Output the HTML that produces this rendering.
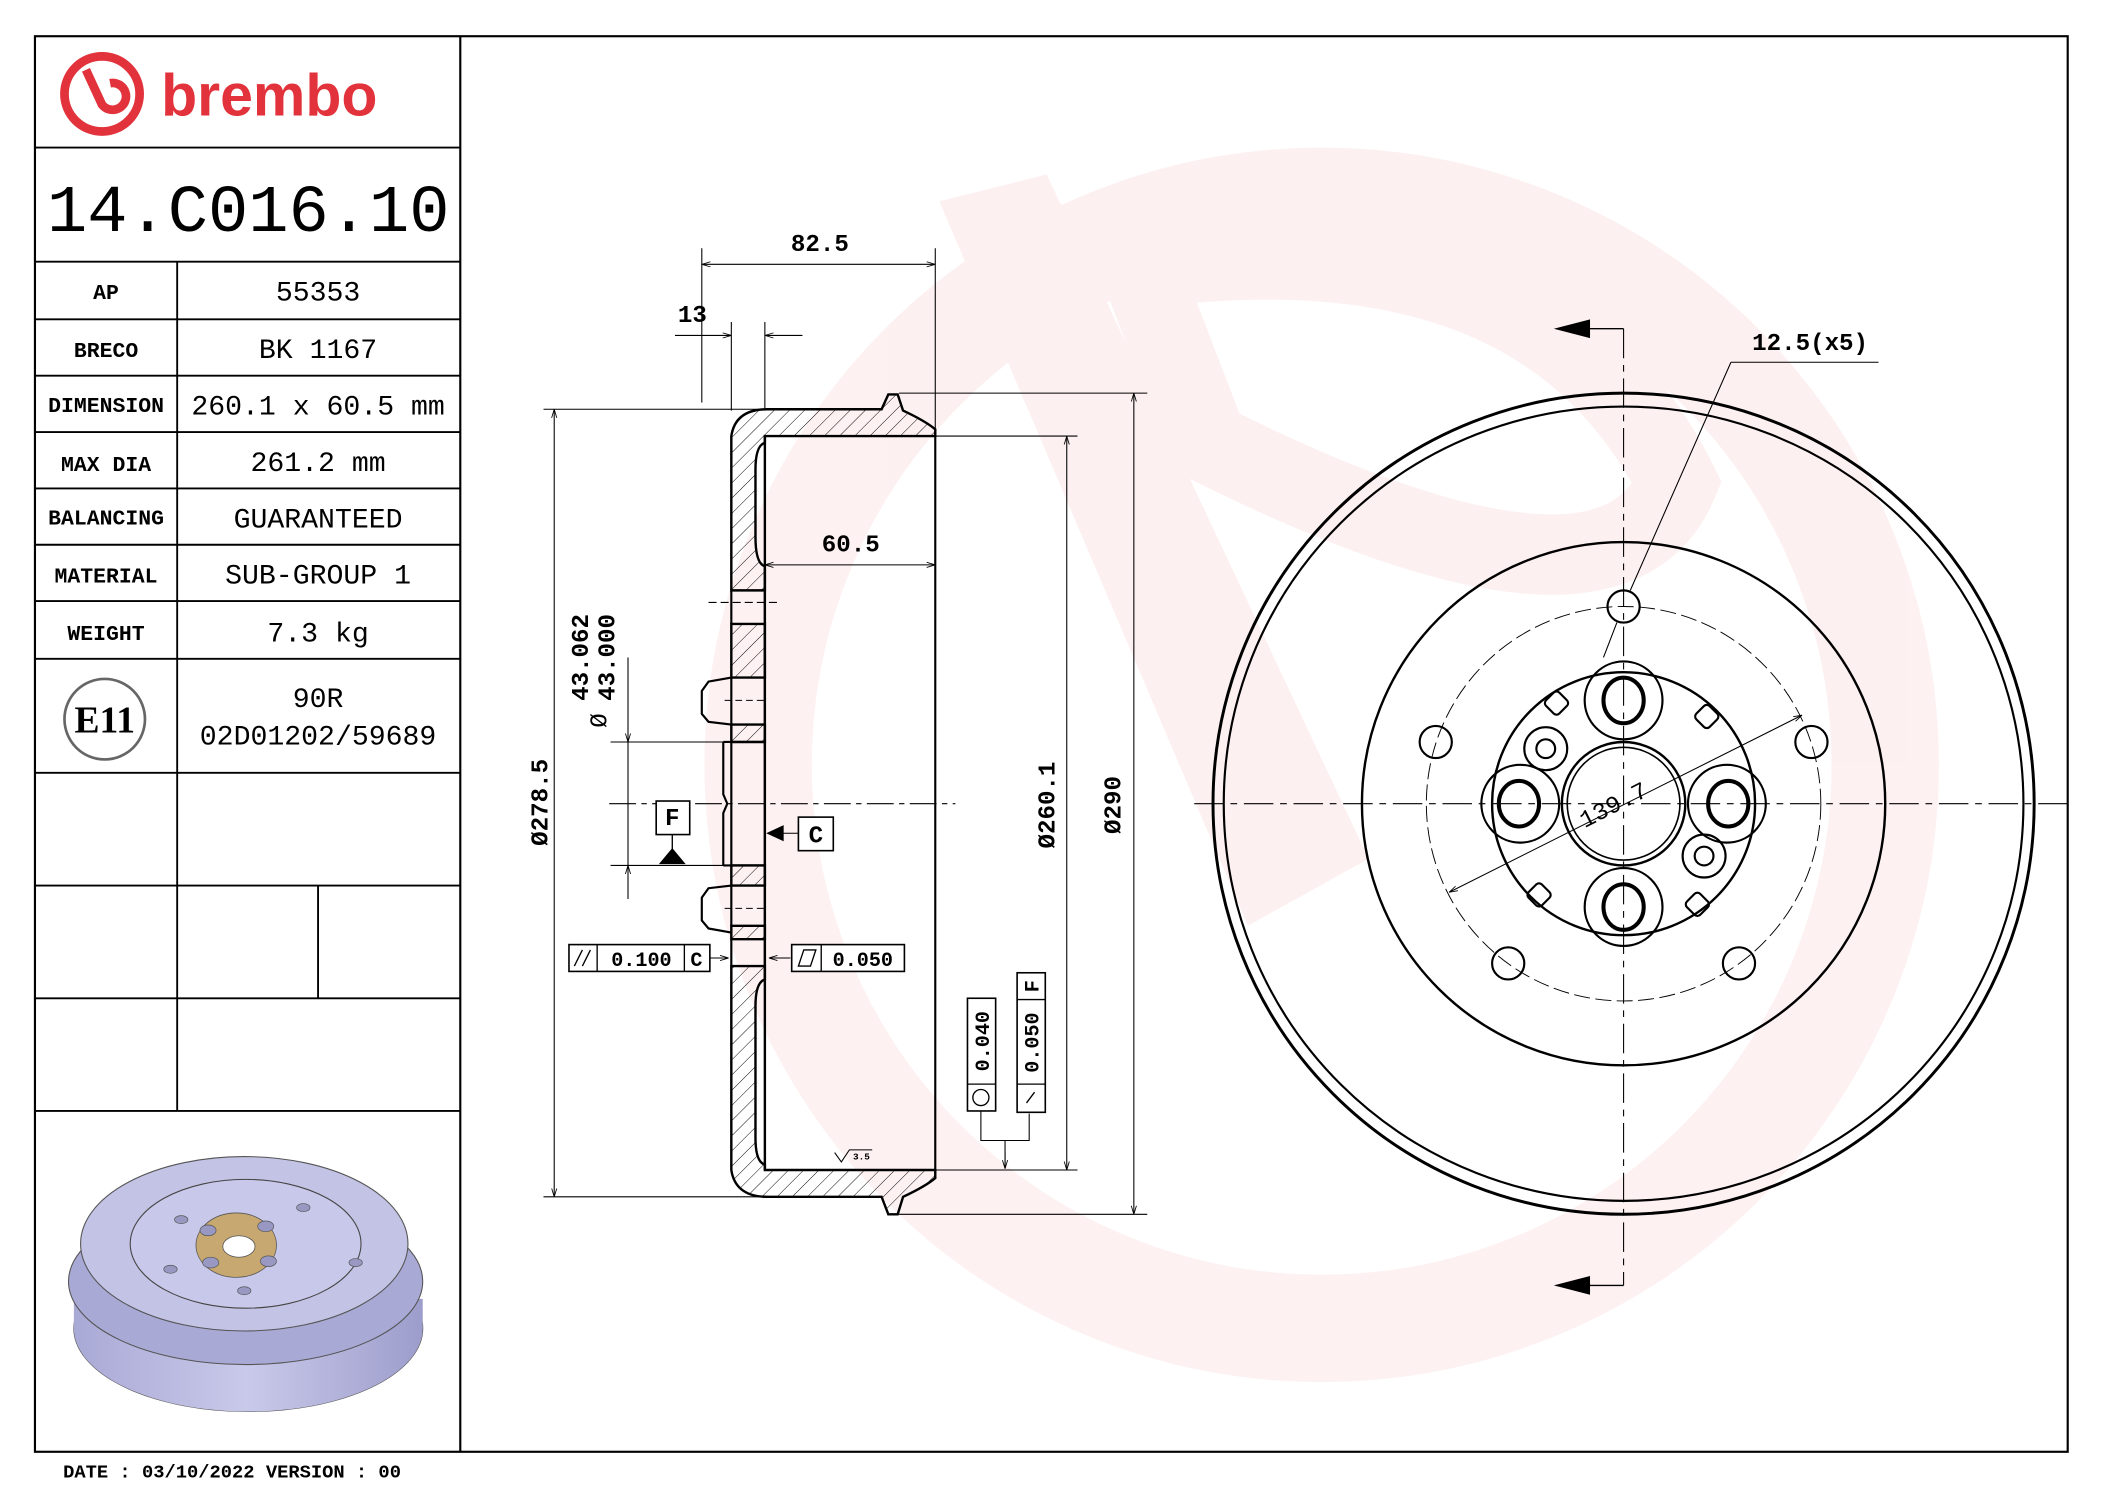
<!DOCTYPE html>
<html><head><meta charset="utf-8"><style>
html,body{margin:0;padding:0;background:#fff;}
svg{display:block}
</style></head><body>
<svg width="2104" height="1488" viewBox="0 0 1568 1109" xmlns="http://www.w3.org/2000/svg" font-family="Liberation Sans, sans-serif">
<defs>
<pattern id="h" width="8" height="8" patternUnits="userSpaceOnUse" patternTransform="rotate(45)">
<line x1="0" y1="0" x2="0" y2="8" stroke="#000" stroke-width="0.7"/>
</pattern>
<linearGradient id="body" x1="0" x2="1"><stop offset="0" stop-color="#a9a9d6"/><stop offset="0.5" stop-color="#c9c9ea"/><stop offset="1" stop-color="#9d9dcc"/></linearGradient>
<marker id="a" viewBox="0 0 10 10" refX="10" refY="5" markerWidth="8" markerHeight="8" orient="auto-start-reverse"><path d="M0,2 L10,5 L0,8" fill="none" stroke="#000" stroke-width="1"/></marker>
</defs>
<rect width="1568" height="1109" fill="#fff"/>
<!-- watermark -->
<g opacity="0.3">
<circle cx="985" cy="570" r="420" fill="none" stroke="#f9d0d4" stroke-width="80"/>
<path d="M700,150 L780,130 L1020,640 L930,690 Z" fill="#f9d0d4"/>
<path d="M850,200 Q1150,160 1250,360 Q1200,480 900,330 Z" fill="none" stroke="#f9d0d4" stroke-width="60"/>
</g>
<!-- frame -->
<rect x="26" y="27" width="1515" height="1055" fill="none" stroke="#000" stroke-width="1.6"/>
<line x1="343" y1="27" x2="343" y2="1082" stroke="#000" stroke-width="1.6"/>
<g stroke="#000" stroke-width="1.4">
<line x1="26" y1="110" x2="343" y2="110"/>
<line x1="26" y1="195" x2="343" y2="195"/>
<line x1="26" y1="238" x2="343" y2="238"/>
<line x1="26" y1="280" x2="343" y2="280"/>
<line x1="26" y1="322" x2="343" y2="322"/>
<line x1="26" y1="364" x2="343" y2="364"/>
<line x1="26" y1="406" x2="343" y2="406"/>
<line x1="26" y1="448" x2="343" y2="448"/>
<line x1="26" y1="491" x2="343" y2="491"/>
<line x1="26" y1="576" x2="343" y2="576"/>
<line x1="26" y1="660" x2="343" y2="660"/>
<line x1="26" y1="744" x2="343" y2="744"/>
<line x1="26" y1="828" x2="343" y2="828"/>
<line x1="132" y1="195" x2="132" y2="828"/>
<line x1="237" y1="660" x2="237" y2="744"/>
</g>
<!-- logo -->
<g fill="none" stroke="#e2323b" stroke-width="6.5">
<circle cx="76" cy="70" r="28"/>
<path d="M64,52 L76,78 A10,10 0 1 0 82,62"/>
</g>
<text x="120" y="86" font-size="44" font-weight="bold" fill="#e2323b">brembo</text>
<text x="185" y="172" font-size="50" text-anchor="middle" font-family="Liberation Mono, monospace">14.C016.10</text>
<g font-size="16" font-weight="bold" text-anchor="middle" font-family="Liberation Mono, monospace">
<text x="79" y="223">AP</text><text x="79" y="266">BRECO</text><text x="79" y="307">DIMENSION</text>
<text x="79" y="351">MAX DIA</text><text x="79" y="391">BALANCING</text><text x="79" y="434">MATERIAL</text><text x="79" y="477">WEIGHT</text>
</g>
<g font-size="21" text-anchor="middle" font-family="Liberation Mono, monospace">
<text x="237" y="224">55353</text><text x="237" y="267">BK 1167</text><text x="237" y="309">260.1 x 60.5 mm</text>
<text x="237" y="351">261.2 mm</text><text x="237" y="393">GUARANTEED</text><text x="237" y="435">SUB-GROUP 1</text>
<text x="237" y="478">7.3 kg</text><text x="237" y="527">90R</text><text x="237" y="555">02D01202/59689</text>
</g>
<circle cx="78" cy="536" r="30" fill="none" stroke="#666" stroke-width="2"/>
<text x="78" y="546" font-size="28" font-weight="bold" text-anchor="middle" font-family="Liberation Serif, serif">E11</text>
<text x="47" y="1101" font-size="14" font-family="Liberation Mono, monospace" font-weight="bold">DATE : 03/10/2022 VERSION : 00</text>
<!-- thumbnail -->
<ellipse cx="185" cy="990" rx="130" ry="62" fill="#a5a5d2" stroke="#555" stroke-width="0.8"/>
<path d="M55,968 L55,990 A130,62 0 0 0 315,990 L315,968 Z" fill="url(#body)"/>
<ellipse cx="183" cy="955" rx="132" ry="62" fill="#a9a9d6" stroke="#555" stroke-width="0.8"/>
<ellipse cx="182" cy="927" rx="122" ry="65" fill="#c3c3e6" stroke="#555" stroke-width="0.8"/>
<ellipse cx="183" cy="927" rx="86" ry="48" fill="#c8c8ea" stroke="#444" stroke-width="0.8"/>
<ellipse cx="176" cy="928" rx="30" ry="24" fill="#c7a870" stroke="#555" stroke-width="0.6"/>
<ellipse cx="178" cy="929" rx="12" ry="8" fill="#fff" stroke="#555" stroke-width="0.6"/>
<g fill="#9898c2" stroke="#555" stroke-width="0.5">
<ellipse cx="155" cy="917" rx="6" ry="4"/><ellipse cx="198" cy="914" rx="6" ry="4"/><ellipse cx="157" cy="941" rx="6" ry="4"/><ellipse cx="200" cy="940" rx="6" ry="4"/>
<ellipse cx="135" cy="909" rx="5" ry="3"/><ellipse cx="226" cy="900" rx="5" ry="3"/><ellipse cx="265" cy="941" rx="5" ry="3"/><ellipse cx="182" cy="962" rx="5" ry="3"/><ellipse cx="127" cy="946" rx="5" ry="3"/>
</g>
<!-- SECTION VIEW -->
<g stroke="#000" stroke-width="1.8" fill="url(#h)">
<path d="M545,325 Q548,305 572,305 L657,305 L662,294 L669,294 L673,306 Q690,314 697,320 L697,325 L570,325 L570,330 Q563,332 563,350 L563,400 Q563,420 570,422 L570,440 L545,440 Z"/>
<path d="M545,465 L570,465 L570,505 L545,505 Z"/>
<path d="M545,540 L570,540 L570,553 L545,553 Z"/>
<path d="M545,645 L570,645 L570,660 L545,660 Z"/>
<path d="M545,690 L570,690 L570,700 L545,700 Z"/>
<path d="M545,720 L570,720 L570,730 Q563,732 563,750 L563,848 Q563,866 570,868 L570,872 L697,872 L697,878 Q690,884 673,892 L669,905 L662,905 L657,892 L572,892 Q548,892 545,872 Z"/>
</g>
<g stroke="#000" stroke-width="1.6" fill="none">
<path d="M545,440 L545,465 M570,440 L570,465 M545,505 L545,540 M570,505 L570,540"/>
<path d="M545,553 L545,645 M570,553 L570,645 M545,660 L545,690 M570,660 L570,690 M545,700 L545,720 M570,700 L570,720"/>
<path d="M545,505 L528,508 L523,515 L523,532 L528,538 L545,540"/>
<path d="M545,660 L528,662 L523,669 L523,686 L528,692 L545,695"/>
<line x1="697" y1="325" x2="697" y2="872"/>
<line x1="539" y1="553" x2="570" y2="553"/><line x1="539" y1="645" x2="570" y2="645"/>
<path d="M539,553 L539,592 L542,599 L539,606 L539,645"/>
<line x1="570" y1="325" x2="570" y2="872" stroke-width="1.8"/>
</g>
<g stroke="#000" stroke-width="0.8" fill="none">
<line x1="454" y1="599" x2="712" y2="599" stroke-dasharray="20,4,4,4"/>
<line x1="528" y1="449" x2="580" y2="449" stroke-dasharray="6,3"/>
<line x1="540" y1="522" x2="570" y2="522" stroke-dasharray="5,3"/><line x1="540" y1="677" x2="570" y2="677" stroke-dasharray="5,3"/>
<line x1="523" y1="185" x2="523" y2="300"/><line x1="697" y1="185" x2="697" y2="320"/>
<line x1="523" y1="197" x2="697" y2="197" marker-start="url(#a)" marker-end="url(#a)"/>
<line x1="545" y1="240" x2="545" y2="306"/><line x1="570" y1="240" x2="570" y2="306"/>
<line x1="503" y1="250" x2="545" y2="250" marker-end="url(#a)"/><line x1="598" y1="250" x2="570" y2="250" marker-end="url(#a)"/>
<line x1="570" y1="421" x2="697" y2="421" marker-start="url(#a)" marker-end="url(#a)"/>
<line x1="405" y1="305" x2="572" y2="305"/><line x1="405" y1="892" x2="572" y2="892"/>
<line x1="413" y1="305" x2="413" y2="892" marker-start="url(#a)" marker-end="url(#a)"/>
<line x1="455" y1="553" x2="545" y2="553"/><line x1="455" y1="645" x2="545" y2="645"/>
<line x1="468" y1="490" x2="468" y2="553" marker-end="url(#a)"/><line x1="468" y1="670" x2="468" y2="645" marker-end="url(#a)"/>
<line x1="468" y1="553" x2="468" y2="645"/>
<line x1="697" y1="325" x2="803" y2="325"/><line x1="697" y1="872" x2="803" y2="872"/>
<line x1="795" y1="325" x2="795" y2="872" marker-start="url(#a)" marker-end="url(#a)"/>
<line x1="670" y1="293" x2="855" y2="293"/><line x1="670" y1="905" x2="855" y2="905"/>
<line x1="845" y1="293" x2="845" y2="905" marker-start="url(#a)" marker-end="url(#a)"/>
<line x1="528" y1="714" x2="543" y2="714" marker-end="url(#a)"/><line x1="589" y1="714" x2="573" y2="714" marker-end="url(#a)"/>
<path d="M731,828 L731,850 L767,850 L767,830 M749,850 L749,871" />
<line x1="749" y1="858" x2="749" y2="871" marker-end="url(#a)"/>
<line x1="582" y1="621" x2="595" y2="621"/>
<path d="M622,859 L627,866 L633,857 L650,857"/>
</g>
<path d="M571,621 L584,615 L584,627 Z" fill="#000"/>
<path d="M491,644 L501,632 L511,644 Z" fill="#000"/>
<line x1="501" y1="622" x2="501" y2="636" stroke="#000" stroke-width="1"/>
<g fill="#fff" stroke="#000" stroke-width="1.2">
<rect x="489" y="597" width="25" height="25"/><rect x="595" y="609" width="26" height="25"/>
<rect x="424" y="704" width="105" height="20"/><rect x="590" y="704" width="84" height="20"/>
<rect x="721" y="744" width="21" height="84"/><rect x="758" y="725" width="21" height="104"/>
</g>
<g stroke="#000" stroke-width="1" fill="none">
<line x1="445" y1="704" x2="445" y2="724"/><line x1="510" y1="704" x2="510" y2="724"/>
<line x1="612" y1="704" x2="612" y2="724"/>
<line x1="721" y1="808" x2="742" y2="808"/><line x1="758" y1="808" x2="779" y2="808"/><line x1="758" y1="745" x2="779" y2="745"/>
<circle cx="731" cy="818" r="6"/>
<path d="M428,720 L434,708 M434,720 L440,708"/>
<path d="M595,720 L599,708 L608,708 L604,720 Z"/>
<path d="M765,822 L771,814"/>
</g>
<g font-size="18" font-family="Liberation Mono, monospace" font-weight="bold" text-anchor="middle">
<text x="611" y="187">82.5</text><text x="516" y="240">13</text><text x="634" y="411">60.5</text>
<text x="501" y="615">F</text><text x="608" y="628">C</text>
<text x="478" y="720" font-size="15">0.100</text><text x="519" y="720" font-size="15">C</text>
<text x="643" y="720" font-size="15">0.050</text>
<text transform="translate(408,598) rotate(-90)">Ø278.5</text>
<text transform="translate(438,490) rotate(-90)">43.062</text>
<text transform="translate(458,490) rotate(-90)">43.000</text>
<text transform="translate(452,537) rotate(-90)" font-weight="normal">Ø</text>
<text transform="translate(786,600) rotate(-90)">Ø260.1</text>
<text transform="translate(835,600) rotate(-90)">Ø290</text>
<text transform="translate(737,776) rotate(-90)" font-size="15">0.040</text>
<text transform="translate(774,777) rotate(-90)" font-size="15">0.050</text>
<text transform="translate(774,735) rotate(-90)" font-size="15">F</text>
<text x="642" y="864" font-size="7">3.5</text>
</g>
<!-- FRONT VIEW -->
<g stroke="#000" fill="none">
<line x1="890" y1="599" x2="1545" y2="599" stroke-width="0.8" stroke-dasharray="22,5,5,5"/>
<line x1="1210" y1="245" x2="1210" y2="958" stroke-width="0.8" stroke-dasharray="22,5,5,5"/>
<ellipse cx="1210" cy="599" rx="306" ry="306" stroke-width="2.2"/>
<ellipse cx="1210" cy="599" rx="298" ry="296" stroke-width="1.6"/>
<circle cx="1210" cy="599" r="195" stroke-width="1.8"/>
<circle cx="1210" cy="599" r="147" stroke-width="0.7" stroke-dasharray="12,4"/>
<circle cx="1210" cy="599" r="98" stroke-width="1.8"/>
<circle cx="1210" cy="599" r="46" stroke-width="1.8"/>
<circle cx="1210" cy="599" r="42" stroke-width="1.2"/>
<g stroke-width="1.6">
<circle cx="1210" cy="452" r="12"/><circle cx="1350" cy="553" r="12"/><circle cx="1296" cy="718" r="12"/><circle cx="1124" cy="718" r="12"/><circle cx="1070" cy="553" r="12"/>
<circle cx="1210" cy="522" r="29"/><circle cx="1287" cy="599" r="29"/><circle cx="1133" cy="599" r="29"/><circle cx="1210" cy="676" r="29"/>
<ellipse cx="1210" cy="522" rx="15" ry="17" stroke-width="3"/><ellipse cx="1288" cy="599" rx="15" ry="17" stroke-width="3"/><ellipse cx="1132" cy="599" rx="15" ry="17" stroke-width="3"/><ellipse cx="1210" cy="676" rx="15" ry="17" stroke-width="3"/>
<circle cx="1152" cy="558" r="16"/><circle cx="1152" cy="558" r="7"/>
<circle cx="1270" cy="638" r="16"/><circle cx="1270" cy="638" r="7"/>
<rect x="1153" y="517" width="14" height="14" rx="3" transform="rotate(-45 1160 524)"/>
<rect x="1265" y="527" width="14" height="14" rx="3" transform="rotate(45 1272 534)"/>
<rect x="1140" y="660" width="14" height="14" rx="3" transform="rotate(45 1147 667)"/>
<rect x="1258" y="667" width="14" height="14" rx="3" transform="rotate(-45 1265 674)"/>
</g>
<line x1="1080" y1="665" x2="1343" y2="533" stroke-width="0.8" marker-start="url(#a)" marker-end="url(#a)"/>
<path d="M1290,270 L1215,440 M1195,490 L1205,464" stroke-width="0.8"/>
<line x1="1290" y1="270" x2="1400" y2="270" stroke-width="0.8"/>
<line x1="1160" y1="245" x2="1210" y2="245" stroke-width="1"/><line x1="1160" y1="958" x2="1210" y2="958" stroke-width="1"/>
</g>
<path d="M1158,245 L1185,238 L1185,252 Z" fill="#000"/>
<path d="M1158,958 L1185,951 L1185,965 Z" fill="#000"/>
<text x="1349" y="261" font-size="18" font-family="Liberation Mono, monospace" font-weight="bold" text-anchor="middle">12.5(x5)</text>
<text transform="translate(1205,605) rotate(-27)" font-size="18" font-family="Liberation Mono, monospace" text-anchor="middle">139.7</text>
</svg>
</body></html>
